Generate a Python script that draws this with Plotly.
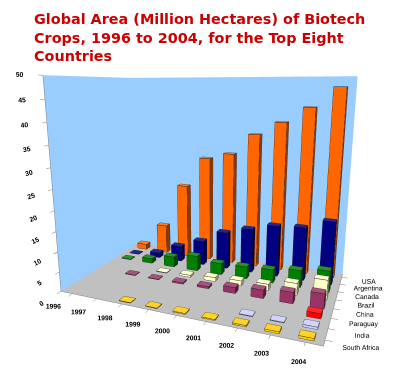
import plotly.graph_objects as go

years = ["1996", "1997", "1998", "1999", "2000", "2001", "2002", "2003", "2004"]
countries = ["USA", "Argentina", "Canada", "Brazil", "China", "Paraguay", "India", "South Africa"]

usa = [1.5, 8.1, 20.5, 28.7, 30.3, 35.7, 39.0, 42.8, 47.6]
argentina = [0.1, 1.4, 4.3, 6.7, 10.0, 11.8, 13.5, 13.9, 16.2]
canada = [0.1, 1.3, 2.8, 4.0, 3.0, 3.2, 3.5, 4.4, 5.4]
brazil = [0, 0, 0.1, 0.5, 1.0, 1.3, 1.6, 3.0, 5.0]
china = [0, 0.1, 0.1, 0.3, 0.5, 1.5, 2.1, 2.8, 3.7]
paraguay = [0, 0, 0, 0, 0, 0, 0, 0, 1.2]
india = [0, 0, 0, 0, 0, 0, 0.1, 0.1, 0.5]
south_africa = [0, 0, 0.1, 0.1, 0.2, 0.2, 0.3, 0.4, 0.5]

series = [usa, argentina, canada, brazil, china, paraguay, india, south_africa]
colors = ["#FF6600", "#000080", "#008000", "#FFFFCC", "#993366", "#FF0000", "#CCCCFF", "#FFCC00"]


def shade(hexc, f):
    r, g, b = int(hexc[1:3], 16), int(hexc[3:5], 16), int(hexc[5:7], 16)
    if f < 1:
        r, g, b = int(r * f), int(g * f), int(b * f)
    else:
        t = f - 1
        r, g, b = int(r + (255 - r) * t), int(g + (255 - g) * t), int(b + (255 - b) * t)
    return "rgb(%d,%d,%d)" % (r, g, b)


WX, WY = 0.22, 0.25
X, Y, Z, I, J, K, FC = [], [], [], [], [], [], []
EX, EY, EZ = [], [], []
ncty = len(countries)
for j, (vals, col) in enumerate(zip(series, colors)):
    yc = ncty - 1 - j
    for i, v in enumerate(vals):
        if v <= 0:
            continue
        x0, x1 = i - WX, i + WX
        y0, y1 = yc - WY, yc + WY
        z0, z1 = 0, v
        b = len(X)
        pts = [(x0, y0, z0), (x1, y0, z0), (x1, y1, z0), (x0, y1, z0),
               (x0, y0, z1), (x1, y0, z1), (x1, y1, z1), (x0, y1, z1)]
        for p in pts:
            X.append(p[0]); Y.append(p[1]); Z.append(p[2])
        faces = [
            ((0, 1, 5), (0, 5, 4), 1.0),   # front
            ((1, 2, 6), (1, 6, 5), 0.55),  # right
            ((4, 5, 6), (4, 6, 7), 1.15),  # top
            ((0, 3, 7), (0, 7, 4), 0.8),   # left
            ((3, 2, 6), (3, 6, 7), 0.8),   # back
            ((0, 1, 2), (0, 2, 3), 0.5),   # bottom
        ]
        for t1, t2, f in faces:
            for t in (t1, t2):
                I.append(b + t[0]); J.append(b + t[1]); K.append(b + t[2])
                FC.append(shade(col, f))
        edges = [(0, 1), (1, 2), (4, 5), (5, 6), (6, 7), (7, 4), (0, 4), (1, 5), (2, 6)]
        for a, c in edges:
            EX += [pts[a][0], pts[c][0], None]
            EY += [pts[a][1], pts[c][1], None]
            EZ += [pts[a][2], pts[c][2], None]

fig = go.Figure()
fig.add_trace(go.Mesh3d(x=X, y=Y, z=Z, i=I, j=J, k=K, facecolor=FC, flatshading=True,
                        lighting=dict(ambient=1, diffuse=0, specular=0, fresnel=0, roughness=1),
                        hoverinfo="skip", showscale=False))
fig.add_trace(go.Scatter3d(x=EX, y=EY, z=EZ, mode="lines", line=dict(color="#202020", width=1),
                           hoverinfo="skip", showlegend=False))

tickfont = dict(family="Liberation Sans", size=9, color="#000000", weight="bold")
fig.update_layout(
    width=400, height=368,
    margin=dict(l=0, r=0, t=0, b=0),
    paper_bgcolor="white",
    showlegend=False,
    title=dict(text="Global Area (Million Hectares) of Biotech<br>Crops, 1996 to 2004, for the Top Eight<br>Countries",
               x=26 / 400, xanchor="left", xref="paper", y=1 - 16 / 368, yanchor="top", yref="container",
               font=dict(family="DejaVu Sans", size=14.4, color="#CC0000", weight="bold")),
    scene=dict(
        domain=dict(x=[0.0, 1.0], y=[0.0, 1.0]),
        xaxis=dict(title="", tickvals=list(range(len(years))), ticktext=years, range=[-0.5, len(years) - 0.5],
                   showbackground=True, backgroundcolor="#99CCFF", showgrid=False, zeroline=False,
                   showline=True, linecolor="#808080", ticks="outside", tickcolor="#808080", tickfont=tickfont,
                   tickangle=0, showspikes=False),
        yaxis=dict(title="", tickvals=list(range(ncty)), ticktext=countries[::-1], range=[-0.5, ncty - 0.5],
                   showbackground=True, backgroundcolor="#99CCFF", showgrid=False, zeroline=False,
                   showline=True, linecolor="#808080", ticks="outside", tickcolor="#808080",
                   tickfont=dict(family="Liberation Sans", size=9, color="#000000"), tickangle=0,
                   showspikes=False),
        zaxis=dict(title="", tickvals=list(range(0, 51, 5)), range=[0, 50],
                   showbackground=True, backgroundcolor="#C0C0C0", showgrid=False, zeroline=False,
                   showline=True, linecolor="#808080", ticks="outside", tickcolor="#808080", tickfont=tickfont,
                   showspikes=False),
        aspectmode="manual", aspectratio=dict(x=1.72, y=1.0, z=1.4),
        camera=dict(eye=dict(x=1.079, y=-2.67, z=0.638), center=dict(x=0, y=0, z=-0.05)),
    ),
)
fig.write_html("out.html")
